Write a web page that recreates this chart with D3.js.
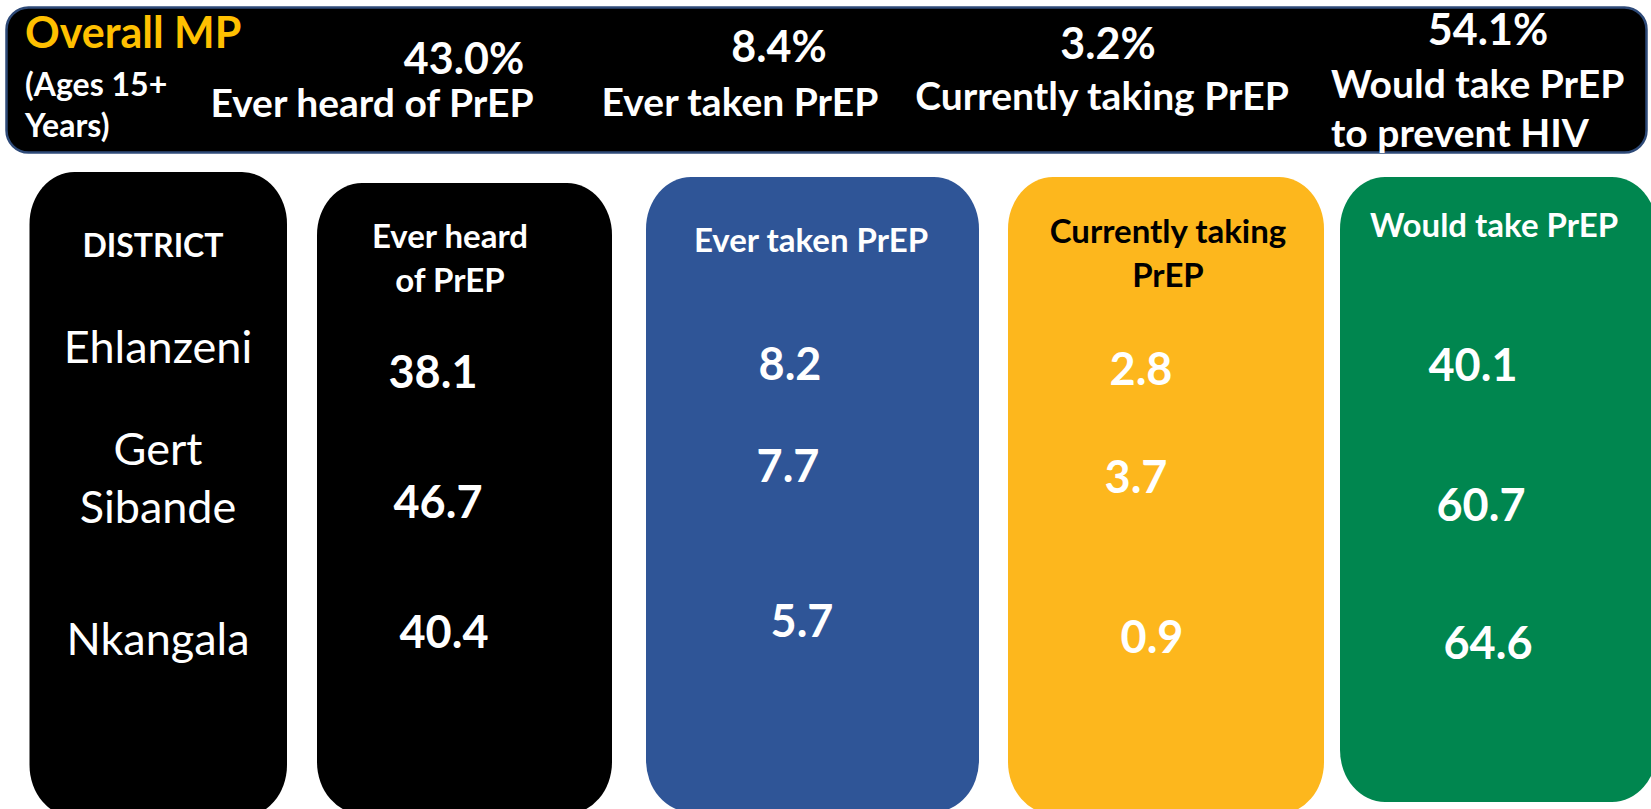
<!DOCTYPE html>
<html lang="en">
<head>
    <meta charset="utf-8">
    <style>
        html, body {
            margin: 0;
            padding: 0;
            background: #ffffff;
            overflow: hidden;
        }
        svg {
            display: block;
            font-family: Lato, "Open Sans", sans-serif;
            font-weight: bold;
        }
    </style>
</head>
<body>

<script src="https://cdn.jsdelivr.net/npm/d3@7/dist/d3.min.js"></script>
<script>
// data
var districts = ['Ehlanzeni', 'Gert Sibande', 'Nkangala'];
var bannerLabels = [['Ever heard of PrEP'], ['Ever taken PrEP'], ['Currently taking PrEP'], ['Would take PrEP', 'to prevent HIV']];
var overallMP = [43.0, 8.4, 3.2, 54.1];
var columnHeaders = [['Ever heard', 'of PrEP'], ['Ever taken PrEP'], ['Currently taking', 'PrEP'], ['Would take PrEP']];
var everHeard = [38.1, 46.7, 40.4];
var everTaken = [8.2, 7.7, 5.7];
var currentlyTaking = [2.8, 3.7, 0.9];
var wouldTake = [40.1, 60.7, 64.6];

(function() {
    var width = 1651, height = 809;
    var svg = d3.select('body').append('svg')
        .attr('width', width)
        .attr('height', height);

    var fmt = d3.format('.1f');

    // ---- top banner ----
    svg.append('rect')
        .attr('x', 6.5).attr('y', 7.5)
        .attr('width', 1640).attr('height', 145)
        .attr('rx', 22).attr('ry', 22)
        .style('fill', '#000')
        .style('stroke', '#2E4A78')
        .style('stroke-width', 2.5);

    svg.append('text')
        .attr('x', 25).attr('y', 48)
        .style('font-size', '43px')
        .style('fill', '#FFC000')
        .text('Overall MP');

    svg.append('text')
        .attr('x', 25).attr('y', 96)
        .style('font-size', '32px')
        .style('fill', '#fff')
        .text('(Ages 15+');
    svg.append('text')
        .attr('x', 25).attr('y', 137)
        .style('font-size', '32px')
        .style('fill', '#fff')
        .text('Years)');

    // banner layout: value centre / baseline and label anchor
    var bannerLayout = [
        { vx: 464, vy: 74, lx: 372, ly: 117, anchor: 'middle' },
        { vx: 779, vy: 62, lx: 740, ly: 116, anchor: 'middle' },
        { vx: 1108, vy: 59, lx: 1102, ly: 110, anchor: 'middle' },
        { vx: 1488, vy: 45, lx: 1331, ly: 98, anchor: 'start' }
    ];

    var banner = svg.selectAll('g.banner')
        .data(overallMP)
        .enter().append('g')
        .attr('class', 'banner');

    banner.append('text')
        .attr('x', function (d, i) { return bannerLayout[i].vx; })
        .attr('y', function (d, i) { return bannerLayout[i].vy; })
        .attr('text-anchor', 'middle')
        .style('font-size', '43px')
        .style('fill', '#fff')
        .text(function (d) { return fmt(d) + '%'; });

    banner.each(function (d, i) {
        var L = bannerLayout[i];
        d3.select(this).selectAll('text.lbl')
            .data(bannerLabels[i])
            .enter().append('text')
            .attr('class', 'lbl')
            .attr('x', L.lx)
            .attr('y', function (t, j) { return L.ly + j * 49; })
            .attr('text-anchor', L.anchor)
            .style('font-size', '39px')
            .style('fill', '#fff')
            .text(function (t) { return t; });
    });

    // ---- columns ----
    var columns = [
        { values: everHeard, fill: '#000000', head: '#fff', x: 317, y: 183, w: 295, b: 814, cx: 450, hy: 248, nx: [433, 438, 444], dy: [5, 1, -2] },
        { values: everTaken, fill: '#2F5597', head: '#fff', x: 646, y: 177, w: 333, b: 812, cx: 811, hy: 252, nx: [790, 788, 802], dy: [-3, -35, -13] },
        { values: currentlyTaking, fill: '#FDB71D', head: '#000', x: 1008, y: 177, w: 316, b: 814, cx: 1168, hy: 243, nx: [1141, 1136, 1152], dy: [2, -24, 3] },
        { values: wouldTake, fill: '#00864F', head: '#fff', x: 1340, y: 177, w: 317, b: 802, cx: 1494, hy: 237, nx: [1473, 1481, 1488], dy: [-2, 4, 9] }
    ];

    // rows share one point scale, each column nudges a little
    var rowY = d3.scalePoint()
        .domain(districts)
        .range([383, 650]);

    // district box
    svg.append('rect')
        .attr('x', 29.5).attr('y', 172)
        .attr('width', 257.5).attr('height', 817 - 172)
        .attr('rx', 45).attr('ry', 52)
        .style('fill', '#000');

    svg.append('text')
        .attr('x', 153).attr('y', 257)
        .attr('text-anchor', 'middle')
        .style('font-size', '32px')
        .style('fill', '#fff')
        .text('DISTRICT');

    var districtLines = [[363], [465, 523], [655]];
    districts.forEach(function (name, i) {
        var parts = name.split(' ');
        parts.forEach(function (p, j) {
            svg.append('text')
                .attr('x', 158)
                .attr('y', districtLines[i][j])
                .attr('text-anchor', 'middle')
                .style('font-size', '45px')
                .style('font-weight', 'normal')
                .style('fill', '#fff')
                .text(p);
        });
    });

    var col = svg.selectAll('g.col')
        .data(columns)
        .enter().append('g')
        .attr('class', 'col');

    col.append('rect')
        .attr('x', function (d) { return d.x; })
        .attr('y', function (d) { return d.y; })
        .attr('width', function (d) { return d.w; })
        .attr('height', function (d) { return d.b - d.y; })
        .attr('rx', 45).attr('ry', 52)
        .style('fill', function (d) { return d.fill; });

    col.each(function (c, ci) {
        var g = d3.select(this);
        g.selectAll('text.head')
            .data(columnHeaders[ci])
            .enter().append('text')
            .attr('class', 'head')
            .attr('x', c.cx)
            .attr('y', function (t, j) { return c.hy + j * 44; })
            .attr('text-anchor', 'middle')
            .style('font-size', '33px')
            .style('fill', c.head)
            .text(function (t) { return t; });

        g.selectAll('text.val')
            .data(c.values)
            .enter().append('text')
            .attr('class', 'val')
            .attr('x', function (d, i) { return c.nx[i]; })
            .attr('y', function (d, i) { return rowY(districts[i]) + c.dy[i]; })
            .attr('text-anchor', 'middle')
            .style('font-size', '45px')
            .style('fill', '#fff')
            .text(function (d) { return fmt(d); });
    });
})();
</script>

</body>
</html>
